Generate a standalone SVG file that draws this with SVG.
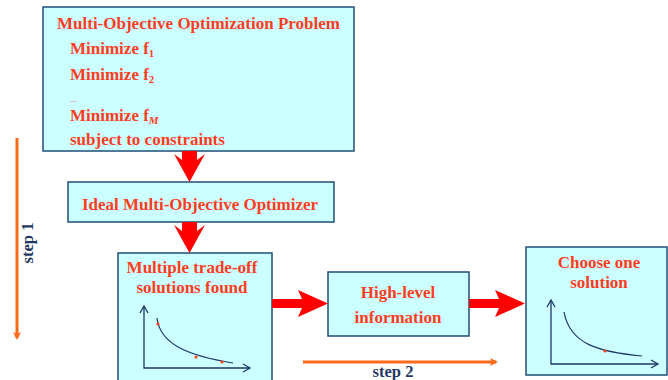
<svg xmlns="http://www.w3.org/2000/svg" width="668" height="380" viewBox="0 0 668 380">
<style>
.box{fill:#ccffff;stroke:#1f4e79;stroke-width:1.5}
.t{font-family:'Liberation Serif','Times New Roman','DejaVu Serif',serif;font-weight:bold;fill:#ff3d1f;font-size:17px}
.ax{fill:none;stroke:#1f3864;stroke-width:1.3}
.cv{fill:none;stroke:#1f3864;stroke-width:1.2}
.dot{fill:#ff3d1f}
.bar{fill:#ff0000}
.step{stroke:#ff6a1a;stroke-width:3;fill:none}
.st{font-family:'Liberation Serif','Times New Roman','DejaVu Serif',serif;font-weight:bold;fill:#1f3864;font-size:16.5px}
</style>
<defs>
<marker id="ah" markerWidth="8" markerHeight="8" refX="6" refY="4" orient="auto" markerUnits="userSpaceOnUse">
<path d="M0,0 L8,4 L0,8 L2,4 Z" fill="#ff6a1a"/>
</marker>
<marker id="axh" markerWidth="10" markerHeight="10" refX="8" refY="5" orient="auto-start-reverse" markerUnits="userSpaceOnUse">
<path d="M1,1 L8,5 L1,9" fill="none" stroke="#1f3864" stroke-width="1.3"/>
</marker>
</defs>

<g id="problem">
<rect class="box" x="43" y="7" width="311" height="144"/>
<text class="t" x="57" y="29">Multi-Objective Optimization Problem</text>
<text class="t" x="70" y="54">Minimize f<tspan style="font-size:11px" dy="3">1</tspan></text>
<text class="t" x="70" y="80">Minimize f<tspan style="font-size:11px" dy="3">2</tspan></text>
<text class="t" x="70" y="102" style="font-size:9px;font-weight:normal">...</text>
<text class="t" x="70" y="121">Minimize f<tspan style="font-size:11px;font-style:italic" dy="3">M</tspan></text>
<text class="t" x="70" y="145">subject to constraints</text>
</g>

<g id="optimizer">
<rect class="box" x="68" y="182" width="266" height="40"/>
<text class="t" x="200" y="210" text-anchor="middle">Ideal Multi-Objective Optimizer</text>
</g>

<g id="tradeoff">
<rect class="box" x="118" y="253" width="154" height="132"/>
<text class="t" x="192" y="273" text-anchor="middle">Multiple trade-off</text>
<text class="t" x="192" y="293" text-anchor="middle">solutions found</text>
<polyline class="ax" points="144,306 144,368 250,368" marker-start="url(#axh)" marker-end="url(#axh)"/>
<path class="cv" d="M157,318 C160,345 190,356 233,363"/>
<circle class="dot" cx="158" cy="324" r="1.6"/>
<circle class="dot" cx="196" cy="357" r="1.6"/>
<circle class="dot" cx="222" cy="362" r="1.6"/>
</g>

<g id="highlevel">
<rect class="box" x="328" y="272" width="141" height="64"/>
<text class="t" x="398" y="298" text-anchor="middle">High-level</text>
<text class="t" x="398" y="323" text-anchor="middle">information</text>
</g>

<g id="choose">
<rect class="box" x="526" y="247" width="141" height="128"/>
<text class="t" x="599" y="268" text-anchor="middle">Choose one</text>
<text class="t" x="599" y="288" text-anchor="middle">solution</text>
<polyline class="ax" points="551,300 551,364 658,364" marker-start="url(#axh)" marker-end="url(#axh)"/>
<path class="cv" d="M564,312 C570,345 600,352 642,356"/>
<circle class="dot" cx="605" cy="351" r="1.6"/>
</g>

<g id="connectors">
<polygon class="bar" points="182,151 197,151 197,160 205,154 189.5,182 174,154 182,160"/>
<polygon class="bar" points="182,222 197,222 197,231 205,225 189.5,253 174,225 182,231"/>
<polygon class="bar" points="272,299 302,299 298,290 328,303.5 298,317 302,308 272,308"/>
<polygon class="bar" points="469,299 499,299 495,290 525,303.5 495,317 499,308 469,308"/>
<line class="step" x1="17" y1="138" x2="17" y2="338" marker-end="url(#ah)"/>
<line class="step" x1="303" y1="362" x2="496" y2="362" marker-end="url(#ah)"/>
<text class="st" transform="translate(33,243) rotate(-90)" text-anchor="middle">step 1</text>
<text class="st" x="393" y="377" text-anchor="middle">step 2</text>
</g>
</svg>
